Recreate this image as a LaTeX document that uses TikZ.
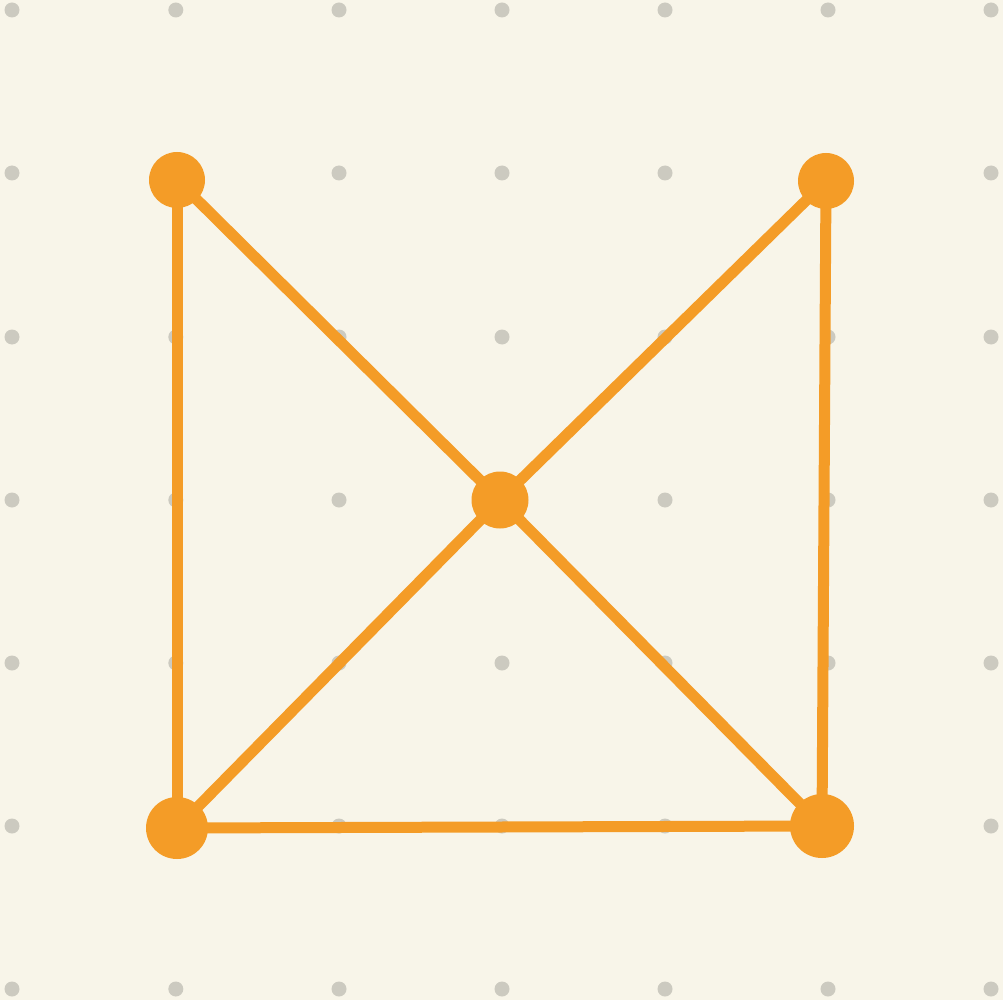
\documentclass[tikz,border=0pt]{standalone}
\usepackage{tikz}

\definecolor{paper}{HTML}{F8F5E9}
\definecolor{griddot}{HTML}{CCCAC0}
\definecolor{vorange}{HTML}{F49C27}

\pgfdeclarelayer{grid}
\pgfdeclarelayer{edges}
\pgfsetlayers{grid,edges,main}

\tikzset{
  vertex/.style={circle, fill=vorange, inner sep=0pt, minimum size=#1},
  vertex/.default=56pt,
  link/.style={draw=vorange, line width=11pt},
}

\begin{document}
\begin{tikzpicture}[x=1pt, y=-1pt]
  % Background
  \begin{pgfonlayer}{grid}
    \fill[paper] (0,0) rectangle (1003,1000);
    \foreach \gx in {12,175.8,339,502,665,828,991}
      \foreach \gy in {10,173,337,500,663,826,989}
        \fill[griddot] (\gx,\gy) circle (7.5);
  \end{pgfonlayer}
  \useasboundingbox (0,0) rectangle (1003,1000);

  % Nodes
  \node[vertex] (A) at (177,180) {};
  \node[vertex] (B) at (826,181) {};
  \node[vertex=57pt] (C) at (500,500) {};
  \node[vertex=62pt] (D) at (177,828) {};
  \node[vertex=64pt] (E) at (822,826) {};

  % Edges
  \begin{pgfonlayer}{edges}
    \path[link] (A.center) -- (D.center);
    \path[link] (A.center) -- (C.center);
    \path[link] (B.center) -- (C.center);
    \path[link] (B.center) -- (E.center);
    \path[link] (C.center) -- (D.center);
    \path[link] (C.center) -- (E.center);
    \path[link] (D.center) -- (E.center);
  \end{pgfonlayer}
\end{tikzpicture}
\end{document}
